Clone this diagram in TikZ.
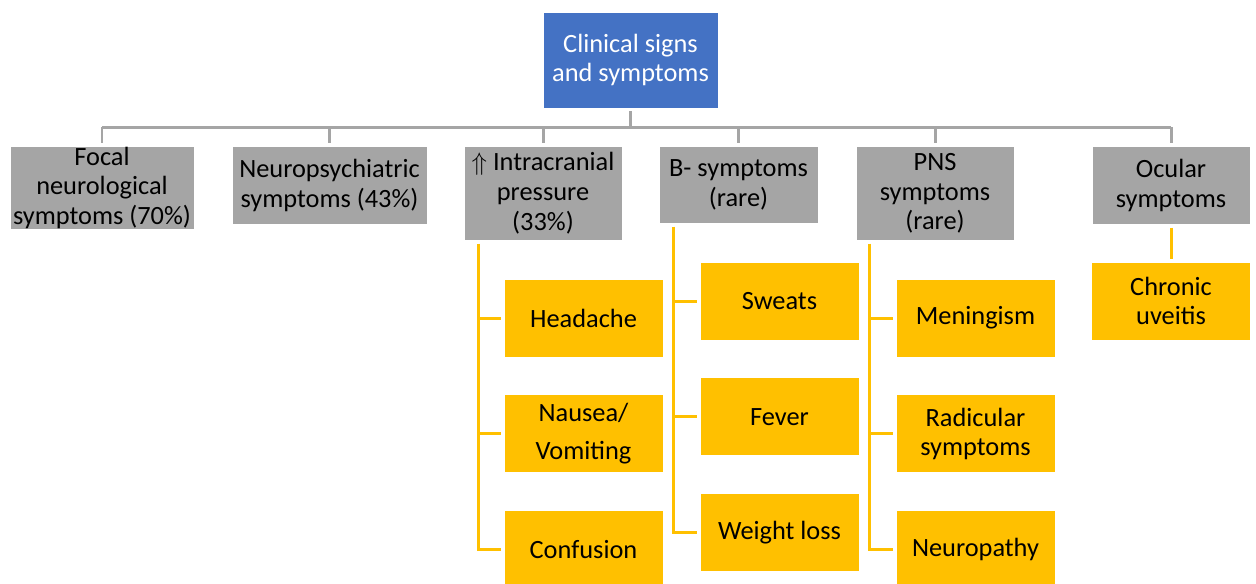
\documentclass[tikz,border=0pt]{standalone}
\usepackage{fontspec}
\setmainfont{Carlito}
\usetikzlibrary{positioning}

\begin{document}
\begin{tikzpicture}[node distance=0.74cm,font=\fontsize{15}{17}\selectfont]

		\definecolor{OfficeBlue}{HTML}{4472C4}
		\definecolor{OfficeGray}{HTML}{A5A5A5}
		\definecolor{OfficeGold}{HTML}{FFC000}

		\tikzset{
			topBox/.style={
				draw=white,
				fill=OfficeBlue,
				text=white,
				align=center,
				font=\fontsize{15}{16.5}\selectfont,
				minimum width=3.5cm,
				minimum height=1.92cm,
				inner sep=0,
			},
			catBox/.style={
				draw=white,
				fill=OfficeGray,
				align=center,
				anchor=north,
				minimum width=3.16cm,
				inner sep=0,
			},
			itemBox/.style={
				draw=white,
				fill=OfficeGold,
				align=center,
				font=\fontsize{15}{16.5}\selectfont,
				minimum width=3.18cm,
				minimum height=1.56cm,
				inner sep=0,
			},
			grayLine/.style={draw=OfficeGray, line width=1.7pt},
			yellowLine/.style={draw=OfficeGold, line width=1.7pt},
		}

		\useasboundingbox (0,0) rectangle (25.12,-11.66);

		% Root
		\node[topBox] (root) at (12.61,-1.2) {Clinical signs\\and symptoms};

		% Categories
		\node[catBox,minimum width=3.68cm,minimum height=1.66cm] (focal) at (2.04,-2.92) {Focal\\neurological\\symptoms (70\%)};
		\node[catBox,minimum width=3.9cm,minimum height=1.56cm] (neuro) at (6.59,-2.92) {Neuropsychiatric\\symptoms (43\%)};
		\node[catBox,minimum height=1.88cm] (icp) at (10.86,-2.92) {$\Uparrow$ Intracranial\\pressure\\(33\%)};
		\node[catBox,minimum width=3.18cm,minimum height=1.54cm] (bsym) at (14.77,-2.92) {B- symptoms\\(rare)};
		\node[catBox,minimum height=1.88cm] (pns) at (18.7,-2.92) {PNS\\symptoms\\(rare)};
		\node[catBox,minimum height=1.56cm] (ocular) at (23.42,-2.92) {Ocular\\symptoms};

		% Tree lines
		\draw[grayLine] ([yshift=-0.06cm]root.south) -- ++(0,-0.32) coordinate (bar);
		\draw[grayLine] (focal.north |- bar) -- (ocular.north |- bar);
		\foreach \c in {focal,neuro,icp,bsym,pns,ocular}
			\draw[grayLine] (\c.north |- bar) -- ([yshift=0.06cm]\c.north);

		% Intracranial pressure
		\node[itemBox,below right=0.76cm and 0.8cm of icp.south west,anchor=north west] (head) {Headache};
		\node[itemBox,below=of head] (naus) {Nausea/\\[5pt]Vomiting};
		\node[itemBox,below=of naus] (conf) {Confusion};

		% B- symptoms
		\node[itemBox,below right=0.76cm and 0.82cm of bsym.south west,anchor=north west] (sweat) {Sweats};
		\node[itemBox,below=of sweat] (fever) {Fever};
		\node[itemBox,below=of fever] (weight) {Weight loss};

		% PNS symptoms
		\node[itemBox,below right=0.76cm and 0.8cm of pns.south west,anchor=north west] (mening) {Meningism};
		\node[itemBox,below=of mening] (radic) {Radicular\\symptoms};
		\node[itemBox,below=of radic] (neuropa) {Neuropathy};

		% Ocular symptoms
		\node[itemBox,below=0.74cm of ocular] (uveit) {Chronic\\uveitis};

		% Item lines
		\coordinate (l3) at ([xshift=0.3cm]icp.south west);
		\coordinate (l4) at ([xshift=0.3cm]bsym.south west);
		\coordinate (l5) at ([xshift=0.28cm]pns.south west);

		\draw[yellowLine] ([yshift=-0.06cm]l3) |- ([xshift=-0.06cm]conf.west);
		\foreach \n in {head,naus}
			\draw[yellowLine] (l3 |- \n.west) -- ([xshift=-0.06cm]\n.west);

		\draw[yellowLine] ([yshift=-0.06cm]l4) |- ([xshift=-0.06cm]weight.west);
		\foreach \n in {sweat,fever}
			\draw[yellowLine] (l4 |- \n.west) -- ([xshift=-0.06cm]\n.west);

		\draw[yellowLine] ([yshift=-0.06cm]l5) |- ([xshift=-0.06cm]neuropa.west);
		\foreach \n in {mening,radic}
			\draw[yellowLine] (l5 |- \n.west) -- ([xshift=-0.06cm]\n.west);

		\draw[yellowLine] ([yshift=-0.06cm]ocular.south) -- ([yshift=0.06cm]uveit.north);

	\end{tikzpicture}
\end{document}
